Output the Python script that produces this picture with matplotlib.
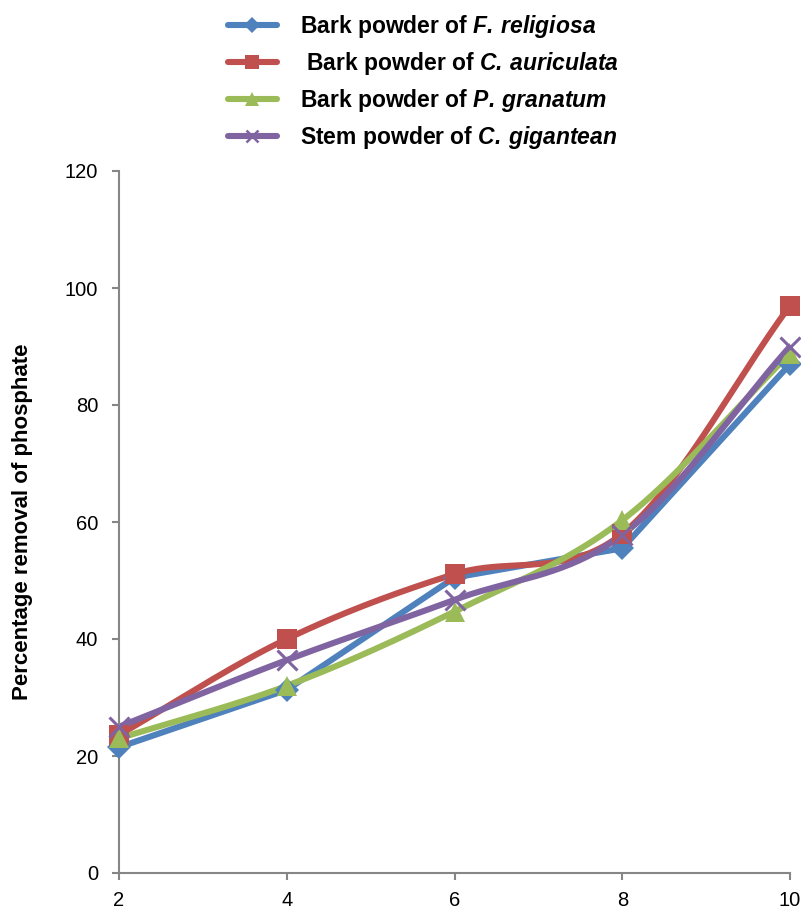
import numpy as np
import matplotlib
matplotlib.use("Agg")
import matplotlib.pyplot as plt

plt.rcParams['font.family'] = ['Liberation Sans', 'DejaVu Sans']
plt.rcParams['mathtext.fontset'] = 'custom'
plt.rcParams['mathtext.rm'] = 'Liberation Sans:bold'
plt.rcParams['mathtext.bfit'] = 'Liberation Sans:italic:bold'
plt.rcParams['mathtext.it'] = 'Liberation Sans:italic:bold'

# Dose values and percentage removal for each adsorbent
dose = [2, 4, 6, 8, 10]
f_religiosa = [21.5, 31.3, 50.5, 55.5, 87.0]
c_auriculata = [23.6, 40.0, 51.1, 58.0, 97.0]
p_granatum = [23.0, 32.0, 44.7, 60.3, 88.8]
c_gigantean = [25.0, 36.4, 46.7, 57.8, 90.0]

labels = [r"Bark powder of $\mathbfit{F.\,religiosa}$",
          r" Bark powder of $\mathbfit{C.\,auriculata}$",
          r"Bark powder of $\mathbfit{P.\,granatum}$",
          r"Stem powder of $\mathbfit{C.\,gigantean}$"]
colors = ['#4F81BD', '#C0504D', '#9BBB59', '#8064A2']
markers = ['D', 's', '^', 'x']
msizes = [12, 15, 15, 14]
smooth = [False, True, True, True]


def catmull_rom(x, y, n=40):
    # smoothed curve through the points, like a spreadsheet "smoothed line"
    x = np.asarray(x, float)
    y = np.asarray(y, float)
    px = np.concatenate([[2 * x[0] - x[1]], x, [2 * x[-1] - x[-2]]])
    py = np.concatenate([[2 * y[0] - y[1]], y, [2 * y[-1] - y[-2]]])
    xs, ys = [], []
    t = np.linspace(0, 1, n)
    for i in range(1, len(px) - 2):
        p0, p1, p2, p3 = [np.array([px[j], py[j]]) for j in range(i - 1, i + 3)]
        c1 = p1 + (p2 - p0) / 6
        c2 = p2 - (p3 - p1) / 6
        seg = ((1 - t) ** 3)[:, None] * p1 + (3 * (1 - t) ** 2 * t)[:, None] * c1 \
            + (3 * (1 - t) * t ** 2)[:, None] * c2 + (t ** 3)[:, None] * p2
        xs.append(seg[:, 0])
        ys.append(seg[:, 1])
    return np.concatenate(xs), np.concatenate(ys)


fig = plt.figure(figsize=(8.01, 9.09), dpi=100)
ax = fig.add_axes([119 / 801, 36 / 909, 671 / 801, 702 / 909])

series = [f_religiosa, c_auriculata, p_granatum, c_gigantean]
handles = []
for ys, lab, col, mk, ms, sm in zip(series, labels, colors, markers, msizes, smooth):
    if sm:
        cx, cy = catmull_rom(dose, ys)
    else:
        cx, cy = dose, ys
    ax.plot(cx, cy, color=col, lw=4.4, solid_capstyle='round', zorder=2)
    ax.plot(dose, ys, linestyle='none', marker=mk, markersize=ms, color=col,
            markeredgewidth=2.2 if mk == 'x' else 0, zorder=3, clip_on=False)
    h, = ax.plot([], [], color=col, lw=4.4, marker=mk, markersize=ms * 0.65,
                 markeredgewidth=1.8 if mk == 'x' else 0, solid_capstyle='round')
    handles.append(h)

ax.set_xlim(2, 10)
ax.set_ylim(0, 120)
ax.set_xticks([2, 4, 6, 8, 10])
ax.set_yticks(range(0, 121, 20))

for s in ['top', 'right']:
    ax.spines[s].set_visible(False)
for s in ['left', 'bottom']:
    ax.spines[s].set_color('#868686')
    ax.spines[s].set_linewidth(1.5)
ax.tick_params(axis='both', colors='#868686', length=5, width=1.5,
               labelsize=14.5, labelcolor='black', direction='out')
ax.tick_params(axis='y', pad=10)
ax.tick_params(axis='x', pad=8)

ax.set_ylabel('Percentage removal of phosphate', fontsize=16, fontweight='bold')
ax.yaxis.set_label_coords(-0.128, 0.5)

fig.legend(handles=handles, labels=labels, loc='upper left',
           bbox_to_anchor=(214 / 801, 1 + 1 / 909), frameon=False,
           borderaxespad=0.2, prop={'size': 16.5, 'weight': 'bold'},
           handlelength=2.15, handletextpad=1.0, labelspacing=0.44)

fig.savefig('out.png', dpi=100)
